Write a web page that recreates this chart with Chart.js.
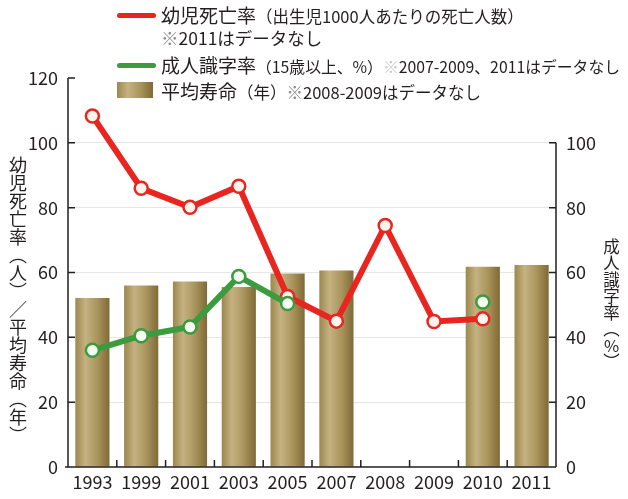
<!DOCTYPE html>
<html><head><meta charset="utf-8">
<script src="https://cdn.jsdelivr.net/npm/chart.js@4"></script>
<style>
html,body{margin:0;padding:0;background:#fff}
body{width:628px;height:499px;overflow:hidden;font-family:"Noto Sans CJK JP","Noto Sans",sans-serif;color:#231f20}
#wrap{position:relative;width:628px;height:499px}
#c{position:absolute;left:0;top:0}
.lg{position:absolute;white-space:nowrap;line-height:1}
.big{font-size:19px}
.sm{font-size:16.5px}
.kome{color:#8a8a8a}
.kome2{color:#c8c8c8}
.line{position:absolute;height:5px;border-radius:3px}
.vt{position:absolute;writing-mode:vertical-rl;line-height:1;white-space:nowrap}
.tcu{text-combine-upright:all}
</style></head>
<body>
<div id="wrap">
<canvas id="c" width="628" height="499"></canvas>
<div class="line" style="left:117px;top:13px;width:39px;background:#e8261f"></div>
<div class="lg" style="left:161px;top:5px"><span class="big">幼児死亡率</span><span class="sm">（出生児1000人あたりの死亡人数）</span></div>
<div class="lg" style="left:161px;top:29px;font-size:17.5px"><span class="kome">※</span>2011はデータなし</div>
<div class="line" style="left:117px;top:63px;width:39px;background:#3c9b3e"></div>
<div class="lg" style="left:161px;top:55px"><span class="big">成人識字率</span><span class="sm" style="font-size:15.8px">（15歳以上、%）<span class="kome2">※</span>2007-2009、2011はデータなし</span></div>
<div id="sw" style="position:absolute;left:117px;top:82px;width:36px;height:16px"></div>
<div class="lg" style="left:161px;top:81px"><span class="big">平均寿命</span><span class="sm">（年）<span class="kome">※</span>2008-2009はデータなし</span></div>
<div class="vt" style="left:9px;top:156px;font-size:18px">幼児死亡率（人）／平均寿命（年）</div>
<div class="vt" style="left:603px;top:238px;font-size:16.5px">成人識字率（<span class="tcu">%</span>）</div>
</div>
<script>
const categories = ['1993','1999','2001','2003','2005','2007','2008','2009','2010','2011'];
const infantMortality = [108.3, 86, 80.1, 86.6, 52.6, 45, 74.5, 44.9, 45.7, null];
const adultLiteracy = [36, 40.5, 43.2, 58.8, 50.4, null, null, null, 50.9, null];
const lifeExpectancy = [52.1, 56, 57.2, 55.5, 59.7, 60.6, null, null, 61.8, 62.3];
const leftTicks = [0, 20, 40, 60, 80, 100, 120];
const rightTicks = [0, 20, 40, 60, 80, 100];

const INK = '#231f20';
const RED = '#e8261f';
const GREEN = '#3c9b3e';

function barGrad(ctx, x0, x1) {
  const g = ctx.createLinearGradient(x0, 0, x1, 0);
  g.addColorStop(0, '#9c874e');
  g.addColorStop(0.3, '#c4b282');
  g.addColorStop(0.65, '#a9945c');
  g.addColorStop(1, '#7f6a38');
  return g;
}
(function(){
  const sw = document.getElementById('sw');
  sw.style.background = 'linear-gradient(90deg,#9c874e 0%,#c4b282 30%,#a9945c 65%,#7f6a38 100%)';
})();

const axesPlugin = {
  id: 'axesPlugin',
  afterDraw(chart) {
    const ctx = chart.ctx;
    const y = chart.scales.y, y1 = chart.scales.y1, x = chart.scales.x;
    const ca = chart.chartArea;
    ctx.save();
    ctx.strokeStyle = INK;
    ctx.lineWidth = 1.5;
    ctx.beginPath();
    ctx.moveTo(ca.left, y.getPixelForValue(120));
    ctx.lineTo(ca.left, ca.bottom);
    ctx.moveTo(ca.left - 3, ca.bottom);
    ctx.lineTo(ca.right, ca.bottom);
    ctx.moveTo(ca.right, y1.getPixelForValue(100));
    ctx.lineTo(ca.right, ca.bottom);
    leftTicks.forEach(v => {
      const p = y.getPixelForValue(v);
      ctx.moveTo(ca.left, p); ctx.lineTo(ca.left + 7, p);
    });
    rightTicks.forEach(v => {
      const p = y1.getPixelForValue(v);
      ctx.moveTo(ca.right, p); ctx.lineTo(ca.right - 7, p);
    });
    for (let i = 1; i < categories.length; i++) {
      const p = (x.getPixelForValue(i - 1) + x.getPixelForValue(i)) / 2;
      ctx.moveTo(p, ca.bottom); ctx.lineTo(p, ca.bottom - 7);
    }
    ctx.stroke();
    ctx.restore();
  }
};

const tickFont = { family: '"Noto Sans CJK JP","Noto Sans",sans-serif', size: 18 };

new Chart(document.getElementById('c'), {
  type: 'bar',
  data: {
    labels: categories,
    datasets: [
      {
        type: 'line',
        label: '成人識字率',
        data: adultLiteracy,
        yAxisID: 'y1',
        borderColor: GREEN,
        borderWidth: 6,
        pointRadius: 6.5,
        pointBackgroundColor: '#f4fff2',
        pointBorderColor: GREEN,
        pointBorderWidth: 2.5,
        spanGaps: false,
        tension: 0,
        order: 0
      },
      {
        type: 'line',
        label: '幼児死亡率',
        data: infantMortality,
        yAxisID: 'y',
        borderColor: RED,
        borderWidth: 6,
        pointRadius: 6.5,
        pointBackgroundColor: '#fff3ee',
        pointBorderColor: RED,
        pointBorderWidth: 2.5,
        spanGaps: false,
        tension: 0,
        order: 1
      },
      {
        type: 'bar',
        label: '平均寿命',
        data: lifeExpectancy,
        yAxisID: 'y',
        barPercentage: 0.7,
        categoryPercentage: 1,
        borderWidth: 0,
        backgroundColor: (c) => {
          const chart = c.chart;
          const xs = chart.scales && chart.scales.x;
          if (!chart.chartArea || !xs || c.dataIndex === undefined) return '#b09c66';
          const xc = xs.getPixelForValue(c.dataIndex);
          const w = (xs.width / categories.length) * 0.7;
          return barGrad(chart.ctx, xc - w / 2, xc + w / 2);
        },
        order: 2
      }
    ]
  },
  options: {
    responsive: false,
    animation: false,
    devicePixelRatio: 1,
    layout: { padding: { top: 78, left: 0, right: 0, bottom: 0 } },
    plugins: { legend: { display: false }, tooltip: { enabled: false } },
    scales: {
      x: {
        type: 'category',
        offset: true,
        grid: { display: false, drawTicks: false },
        border: { display: false },
        ticks: { font: tickFont, color: INK, padding: 4, maxRotation: 0, autoSkip: false },
        afterFit: s => { s.height = 32; }
      },
      y: {
        position: 'left',
        min: 0, max: 120,
        afterBuildTicks: s => { s.ticks = leftTicks.map(v => ({ value: v })); },
        grid: {
          drawTicks: false,
          lineWidth: 1,
          color: c => (c.tick && c.tick.value > 0 && c.tick.value < 120) ? '#e6e6e6' : 'rgba(0,0,0,0)'
        },
        border: { display: false },
        ticks: { font: tickFont, color: INK, padding: 10 },
        afterFit: s => { s.width = 68; }
      },
      y1: {
        position: 'right',
        min: 0, max: 120,
        afterBuildTicks: s => { s.ticks = rightTicks.map(v => ({ value: v })); },
        grid: { drawOnChartArea: false, drawTicks: false },
        border: { display: false },
        ticks: { font: tickFont, color: INK, padding: 10 },
        afterFit: s => { s.width = 72; }
      }
    }
  },
  plugins: [axesPlugin]
});
</script>
</body></html>
